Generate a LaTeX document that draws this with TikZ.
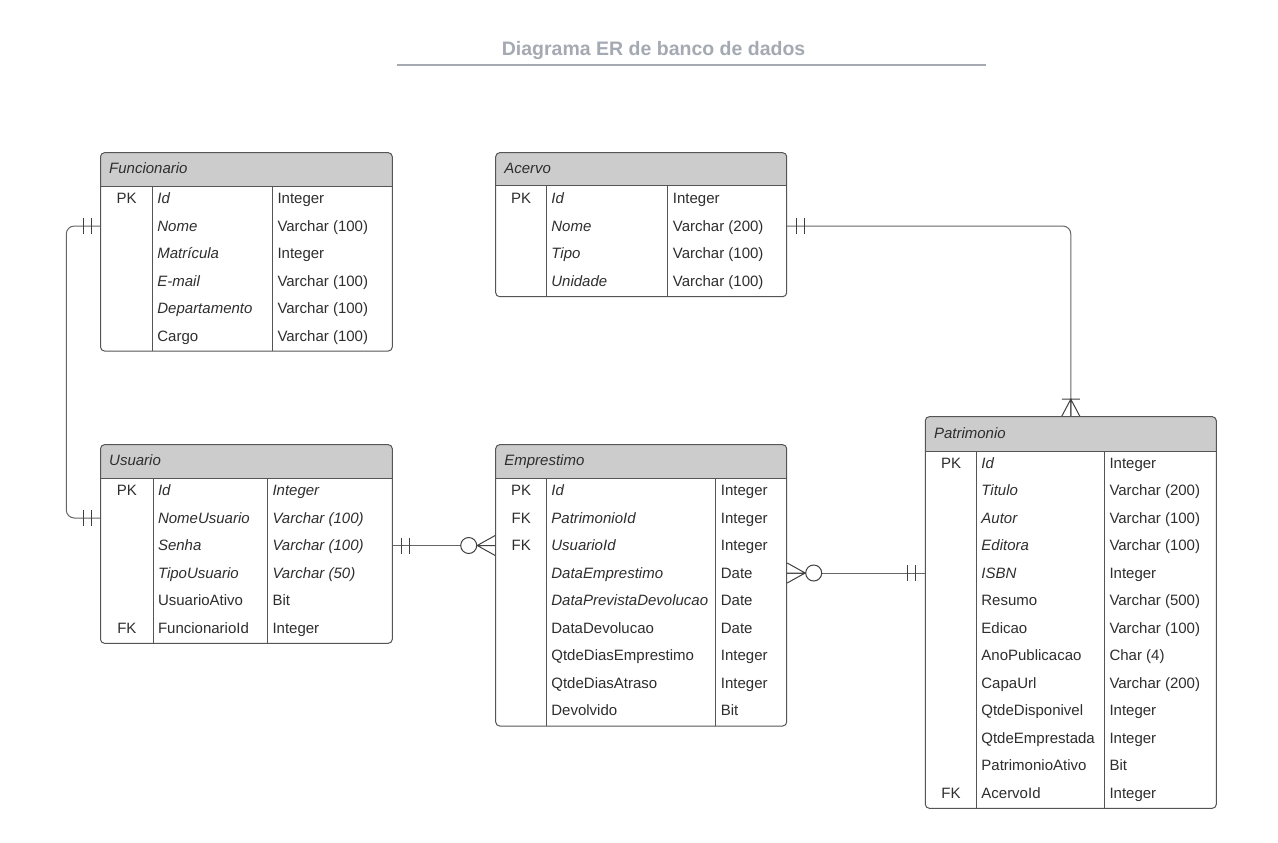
\documentclass[tikz,border=0pt]{standalone}
\usepackage{fontspec}
\setmainfont{Liberation Sans}
\usetikzlibrary{fit}
\definecolor{titlec}{HTML}{A4A9B2}
\definecolor{headfill}{HTML}{CCCCCC}
\definecolor{framec}{HTML}{555555}
\definecolor{txt}{HTML}{2E2E2E}
\definecolor{connc}{HTML}{666666}
\definecolor{mkc}{HTML}{404040}
\newcommand\cellfont{\fontsize{15}{17}\selectfont}
\tikzset{
  cell/.style={inner sep=0pt, font=\cellfont, text=txt, text height=10.7pt, text depth=0pt},
  tabframe/.style={draw=framec, line width=1pt, rounded corners=4pt, inner sep=0pt},
  tabline/.style={draw=framec, line width=1pt},
  conn/.style={draw=connc, line width=1pt},
  mk/.style={draw=mkc, line width=1pt},
  pics/oneone/.style={code={\draw[mk] (9,-8) -- (9,8) (17,-8) -- (17,8);}},
  pics/onemany/.style={code={\draw[mk] (17,-9) -- (17,9) (0,-9) -- (17,0) -- (0,9) (0,0) -- (17,0);}},
  pics/zeromany/.style={code={\draw[mk] (0,-10) -- (18,0) -- (0,10) (0,0) -- (18,0); \draw[mk, fill=white] (26.5,0) circle (8);}},
}
\newcommand\ertable[9]{%
  \fill[headfill] (#2,#6) [rounded corners=4pt] -- (#2,#3) -- (#4,#3) [sharp corners] -- (#4,#6) -- cycle;
  \node[tabframe, fit={(#2,#3) (#4,#5)}] (#1) {};
  \draw[tabline] (#2,#6) -- (#4,#6) (#7,#6) -- (#7,#5) (#8,#6) -- (#8,#5);
  \node[cell, anchor=west] (#1-title) at ({#2+8.5},{(#3+#6)/2-1}) {\itshape #9};
  \gdef\curname{#1}\gdef\cx{#2}\gdef\ccA{#7}\gdef\ccB{#8}%
}
\newcommand\errows[2]{%
  \foreach \k/\n/\t [count=\i] in {#2} {
    \pgfmathsetmacro\yy{#1+(\i-1)*27.5}
    \node[cell, anchor=center] (\curname-k\i) at ({(\cx+\ccA)/2},\yy) {\k};
    \node[cell, anchor=west] (\curname-n\i) at ({\ccA+4.5},\yy) {\n};
    \node[cell, anchor=west] (\curname-t\i) at ({\ccB+5},\yy) {\t};
  }
}
\begin{document}
\begin{tikzpicture}[x=1pt,y=-1pt]
\useasboundingbox (0,0) rectangle (1278,843);
\fill[white] (0,0) rectangle (1278,843);

% title
\node[anchor=base west, inner sep=0pt, text=titlec, font=\bfseries\fontsize{19.5}{22}\selectfont] (title) at (501.7,55.7) {Diagrama ER de banco de dados};
\coordinate (ulA) at (397.3,65);
\coordinate (ulB) at (985.5,65);
\draw[titlec, line width=1.6pt] (ulA) -- (ulB);

% Funcionario
\ertable{fun}{100.5}{152.7}{392.3}{351}{186}{152.7}{272.3}{Funcionario}
\errows{198.5}{PK/\textit{Id}/Integer, {}/\textit{Nome}/Varchar (100), {}/\textit{Matrícula}/Integer, {}/\textit{E-mail}/Varchar (100), {}/\textit{Departamento}/Varchar (100), {}/Cargo/Varchar (100)}

% Acervo
\ertable{acv}{495.7}{152.7}{786.7}{296.7}{185.7}{546.7}{667.7}{Acervo}
\errows{198.5}{PK/\textit{Id}/Integer, {}/\textit{Nome}/Varchar (200), {}/\textit{Tipo}/Varchar (100), {}/\textit{Unidade}/Varchar (100)}

% Usuario
\ertable{usu}{100.5}{444.7}{392.3}{643.3}{478.3}{153.3}{267.3}{Usuario}
\errows{490.5}{PK/\textit{Id}/\textit{Integer}, {}/\textit{NomeUsuario}/\textit{Varchar (100)}, {}/\textit{Senha}/\textit{Varchar (100)}, {}/\textit{TipoUsuario}/\textit{Varchar (50)}, {}/UsuarioAtivo/Bit, FK/FuncionarioId/Integer}

% Emprestimo
\ertable{emp}{495.7}{444.7}{786.7}{726}{478.3}{546.7}{715.7}{Emprestimo}
\errows{490.5}{PK/\textit{Id}/Integer, FK/\textit{PatrimonioId}/Integer, FK/\textit{UsuarioId}/Integer, {}/\textit{DataEmprestimo}/Date, {}/\textit{DataPrevistaDevolucao}/Date, {}/DataDevolucao/Date, {}/QtdeDiasEmprestimo/Integer, {}/QtdeDiasAtraso/Integer, {}/Devolvido/Bit}

% Patrimonio
\ertable{pat}{925.3}{416.7}{1216.3}{808.3}{451.7}{976.7}{1104.3}{Patrimonio}
\errows{463}{PK/\textit{Id}/Integer, {}/\textit{Titulo}/Varchar (200), {}/\textit{Autor}/Varchar (100), {}/\textit{Editora}/Varchar (100), {}/\textit{ISBN}/Integer, {}/Resumo/Varchar (500), {}/Edicao/Varchar (100), {}/AnoPublicacao/Char (4), {}/CapaUrl/Varchar (200), {}/QtdeDisponivel/Integer, {}/QtdeEmprestada/Integer, {}/PatrimonioAtivo/Bit, FK/AcervoId/Integer}

% connectors
\coordinate (c1a) at (fun.west |- fun-n2);
\coordinate (c1b) at (usu.west |- usu-n2);
\coordinate (j1) at (66.3,0);
\draw[conn, rounded corners=8pt] (c1a) -| (j1 |- c1b) -- (c1b);
\pic[rotate=180] at (c1a) {oneone};
\pic[rotate=180] at (c1b) {oneone};

\coordinate (c2a) at (acv.east |- acv-n2);
\draw[conn, rounded corners=8pt] (c2a) -| (pat.north);
\pic at (c2a) {oneone};
\pic[rotate=90] at (pat.north) {onemany};

\coordinate (c3a) at (usu.east |- usu-n3);
\coordinate (c3b) at (emp.west |- usu-n3);
\draw[conn] (c3a) -- (c3b);
\pic at (c3a) {oneone};
\pic[rotate=180] at (c3b) {zeromany};

\coordinate (c4a) at (emp.east |- pat-n5);
\coordinate (c4b) at (pat.west |- pat-n5);
\draw[conn] (c4a) -- (c4b);
\pic at (c4a) {zeromany};
\pic[rotate=180] at (c4b) {oneone};
\end{tikzpicture}
\end{document}
